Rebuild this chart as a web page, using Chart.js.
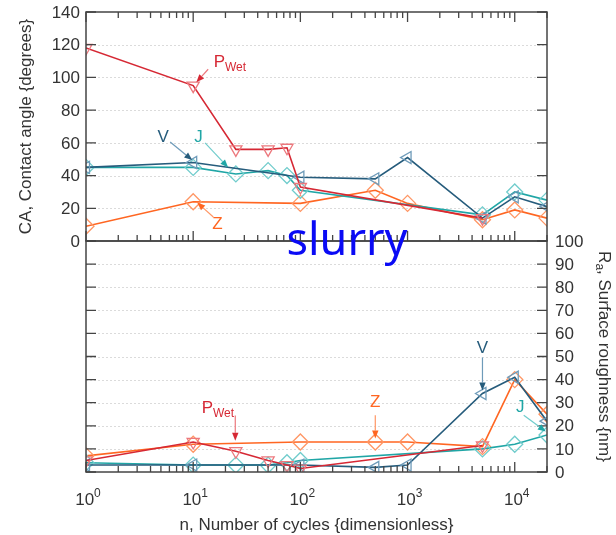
<!DOCTYPE html>
<html>
<head>
<meta charset="utf-8">
<script src="https://cdn.jsdelivr.net/npm/chart.js@4.4.1/dist/chart.umd.min.js"></script>
<style>
  body { margin: 0; background: #fff; }
  #wrap { position: relative; width: 616px; height: 535px; }
  canvas { position: absolute; left: 0; top: 0; }
</style>
</head>
<body>
<div id="wrap">
  <canvas id="caChart" width="616" height="535"></canvas>
  <canvas id="raChart" width="616" height="535"></canvas>
</div>
<script>
// number of cycles for each series
const pwetCycles = [1, 10, 25, 50, 75, 100, 5000];
const vCycles = [1, 10, 100, 500, 1000, 5000, 10000, 20000];
const jCycles = [1, 10, 25, 50, 75, 100, 5000, 10000, 20000];
const zCycles = [1, 10, 100, 500, 1000, 5000, 10000, 20000];

// contact angle (degrees), top panel
const pwetCA = [118, 95, 56, 56, 57, 33, 14];
const vCA = [45, 48, 39, 38, 51, 14, 27, 21];
const jCA = [45, 45, 41, 43, 40, 31, 16, 30, 25];
const zCA = [9, 24, 23, 31, 23, 13, 19, 14];

// surface roughness Ra (nm), bottom panel
const pwetRa = [5, 13, 9, 5, 3, 1.5, 11.5];
const vRa = [3, 3, 3, 2, 3, 34, 41, 22];
const jRa = [4, 3, 3, 3, 4, 5, 10, 12, 16];
const zRa = [7, 12, 13, 13, 13, 11, 40, 25];

const caTicks = [0, 20, 40, 60, 80, 100, 120, 140];
const raTicks = [0, 10, 20, 30, 40, 50, 60, 70, 80, 90, 100];
const decades = [0, 1, 2, 3, 4];
const xMin = 1, xMax = 20000;

const fontFam = '"Liberation Sans", Arial, sans-serif';
const axisColor = '#444';
const textColor = '#333';

const red = { line: 'rgb(214,40,52)', mark: 'rgb(236,120,125)' };
const navy = { line: 'rgb(38,92,124)', mark: 'rgb(110,155,185)' };
const teal = { line: 'rgb(32,166,166)', mark: 'rgb(112,204,204)' };
const orange = { line: 'rgb(255,102,34)', mark: 'rgb(255,150,100)' };

// label notes: where the text sits and where its arrow points, in data units
const caNotes = [
  { parts: [['P', 17, 0], ['Wet', 12, 5]], col: red, at: [22, 109], from: [13.8, 105], to: [10.7, 97] },
  { parts: [['V', 17, 0]], col: navy, at: [5.25, 63.5], from: [6.1, 60.5], to: [9.8, 49.5] },
  { parts: [['J', 17, 0]], col: teal, at: [11.2, 63.5], from: [12.9, 60], to: [21.2, 45] },
  { parts: [['Z', 17, 0]], col: orange, at: [16.8, 10.4], from: [15.4, 14.7], to: [10.9, 23.5] }
];
const raNotes = [
  { parts: [['P', 17, 0], ['Wet', 12, 5]], col: red, at: [17, 27.6], from: [24.7, 24.5], to: [24.7, 13.5] },
  { parts: [['Z', 17, 0]], col: orange, at: [500, 30], from: [500, 24.6], to: [500, 14.5] },
  { parts: [['V', 17, 0]], col: navy, at: [5000, 53.7], from: [5000, 49.6], to: [5000, 35.3] },
  { parts: [['J', 17, 0]], col: teal, at: [11250, 27.8], from: [12130, 24.6], to: [19500, 17.5] }
];

const series = (label, cycles, values, col, style, rot, r) => ({
  label,
  data: cycles.map((c, i) => ({ x: c, y: values[i] })),
  borderColor: col.line,
  borderWidth: 1.6,
  pointStyle: style,
  pointRotation: rot,
  pointRadius: r,
  pointBorderColor: col.mark,
  pointBackgroundColor: 'rgba(255,255,255,0)',
  pointBorderWidth: 1.3,
  tension: 0,
  fill: false
});

const richText = (ctx, parts, x, y, align) => {
  let w = 0;
  parts.forEach(p => { ctx.font = p[1] + 'px ' + fontFam; w += ctx.measureText(p[0]).width; });
  let cx = align === 'center' ? x - w / 2 : align === 'right' ? x - w : x;
  ctx.textAlign = 'left';
  parts.forEach(p => {
    ctx.font = p[1] + 'px ' + fontFam;
    ctx.fillText(p[0], cx, y + p[2]);
    cx += ctx.measureText(p[0]).width;
  });
};

const arrow = (ctx, x1, y1, x2, y2, col) => {
  const a = Math.atan2(y2 - y1, x2 - x1);
  const hl = 8, hw = 3.2;
  const bx = x2 - hl * Math.cos(a), by = y2 - hl * Math.sin(a);
  ctx.strokeStyle = col.mark;
  ctx.lineWidth = 1.2;
  ctx.beginPath(); ctx.moveTo(x1, y1); ctx.lineTo(bx, by); ctx.stroke();
  ctx.fillStyle = col.line;
  ctx.beginPath();
  ctx.moveTo(x2, y2);
  ctx.lineTo(bx + hw * Math.sin(a), by - hw * Math.cos(a));
  ctx.lineTo(bx - hw * Math.sin(a), by + hw * Math.cos(a));
  ctx.closePath(); ctx.fill();
};

const logTicks = () => {
  const out = [];
  for (let d = 0; d <= 4; d++) {
    for (let m = 1; m <= 9; m++) {
      const v = m * Math.pow(10, d);
      if (v <= xMax) out.push({ v, major: m === 1 });
    }
  }
  return out;
};

// frame, ticks, labels and notes for one panel
const panelKit = (cfg) => ({
  id: 'panelKit',
  beforeDatasetsDraw(chart) {
    const { ctx, chartArea: a } = chart;
    const y = chart.scales.y;
    ctx.save();
    ctx.strokeStyle = 'rgba(0,0,0,0.14)';
    ctx.lineWidth = 1;
    ctx.setLineDash([2, 2]);
    cfg.yTicks.forEach(v => {
      const py = Math.round(y.getPixelForValue(v)) + 0.5;
      if (py <= a.top + 2 || py >= a.bottom - 2) return;
      ctx.beginPath(); ctx.moveTo(a.left, py); ctx.lineTo(a.right, py); ctx.stroke();
    });
    ctx.restore();
  },
  afterDatasetsDraw(chart) {
    const { ctx, chartArea: a } = chart;
    const x = chart.scales.x, y = chart.scales.y;
    ctx.save();
    ctx.strokeStyle = axisColor;
    ctx.lineWidth = 1.5;
    ctx.strokeRect(a.left, a.top, a.right - a.left, a.bottom - a.top);

    // y ticks on both sides, pointing inward
    ctx.lineWidth = 1.3;
    cfg.yTicks.forEach(v => {
      const py = y.getPixelForValue(v);
      ctx.beginPath();
      ctx.moveTo(a.left, py); ctx.lineTo(a.left + 10, py);
      ctx.moveTo(a.right, py); ctx.lineTo(a.right - 10, py);
      ctx.stroke();
    });
    // log ticks on chosen edges
    logTicks().forEach(t => {
      const px = x.getPixelForValue(t.v);
      const len = t.major ? 10 : 6;
      ctx.beginPath();
      if (cfg.topTicks) { ctx.moveTo(px, a.top); ctx.lineTo(px, a.top + len); }
      ctx.moveTo(px, a.bottom); ctx.lineTo(px, a.bottom - len);
      ctx.stroke();
    });

    // y tick labels
    ctx.fillStyle = textColor;
    ctx.font = '17px ' + fontFam;
    ctx.textBaseline = 'middle';
    cfg.yTicks.forEach(v => {
      const py = y.getPixelForValue(v);
      if (cfg.labelSide === 'left') { ctx.textAlign = 'right'; ctx.fillText(String(v), a.left - 6, py + 1); }
      else { ctx.textAlign = 'left'; ctx.fillText(String(v), a.right + 8, py + 1); }
    });

    // axis titles
    ctx.save();
    ctx.textBaseline = 'middle';
    if (cfg.labelSide === 'left') {
      ctx.translate(26, (a.top + a.bottom) / 2);
      ctx.rotate(-Math.PI / 2);
      ctx.fillStyle = textColor;
      richText(ctx, [['CA, Contact angle {degrees}', 17, 0]], 0, 0, 'center');
    } else {
      ctx.translate(604, (a.top + a.bottom) / 2);
      ctx.rotate(Math.PI / 2);
      ctx.fillStyle = textColor;
      richText(ctx, [['R', 17, 0], ['a', 12, 5], [', Surface roughness {nm}', 17, 0]], 0, 0, 'center');
    }
    ctx.restore();

    if (cfg.xLabels) {
      ctx.textBaseline = 'alphabetic';
      ctx.fillStyle = textColor;
      decades.forEach(d => {
        const px = x.getPixelForValue(Math.pow(10, d));
        richText(ctx, [['10', 17, 0], [String(d), 12, -8]], px + 2, 505, 'center');
      });
      richText(ctx, [['n, Number of cycles {dimensionless}', 17, 0]], (a.left + a.right) / 2, 530, 'center');
    }

    // series notes
    ctx.textBaseline = 'middle';
    cfg.notes.forEach(n => {
      arrow(ctx, x.getPixelForValue(n.from[0]), y.getPixelForValue(n.from[1]),
        x.getPixelForValue(n.to[0]), y.getPixelForValue(n.to[1]), n.col);
      ctx.fillStyle = n.col.line;
      richText(ctx, n.parts, x.getPixelForValue(n.at[0]), y.getPixelForValue(n.at[1]), 'center');
    });

    if (cfg.slurry) {
      ctx.fillStyle = 'rgb(10,10,245)';
      ctx.font = '45px "Noto Sans", sans-serif';
      ctx.textAlign = 'center';
      ctx.textBaseline = 'alphabetic';
      ctx.fillText('slurry', 347, 255);
    }
    ctx.restore();
  }
});

const baseOptions = (padding, yMax) => ({
  responsive: false,
  animation: false,
  events: [],
  layout: { padding },
  plugins: { legend: { display: false }, tooltip: { enabled: false } },
  scales: {
    x: { type: 'logarithmic', min: xMin, max: xMax, display: false },
    y: { type: 'linear', min: 0, max: yMax, display: false }
  }
});

new Chart(document.getElementById('caChart'), {
  type: 'line',
  data: {
    datasets: [
      series('P Wet', pwetCycles, pwetCA, red, 'triangle', 180, 7),
      series('V', vCycles, vCA, navy, 'triangle', 270, 7),
      series('J', jCycles, jCA, teal, 'rectRot', 0, 8),
      series('Z', zCycles, zCA, orange, 'rectRot', 0, 8)
    ]
  },
  options: baseOptions({ left: 86, right: 69, top: 12, bottom: 294 }, 140),
  plugins: [panelKit({ yTicks: caTicks, labelSide: 'left', topTicks: true, xLabels: false, notes: caNotes, slurry: false })]
});

new Chart(document.getElementById('raChart'), {
  type: 'line',
  data: {
    datasets: [
      series('P Wet', pwetCycles, pwetRa, red, 'triangle', 180, 7),
      series('V', vCycles, vRa, navy, 'triangle', 270, 7),
      series('J', jCycles, jRa, teal, 'rectRot', 0, 8),
      series('Z', zCycles, zRa, orange, 'rectRot', 0, 8)
    ]
  },
  options: baseOptions({ left: 86, right: 69, top: 241, bottom: 63 }, 100),
  plugins: [panelKit({ yTicks: raTicks, labelSide: 'right', topTicks: false, xLabels: true, notes: raNotes, slurry: true })]
});
</script>
</body>
</html>
